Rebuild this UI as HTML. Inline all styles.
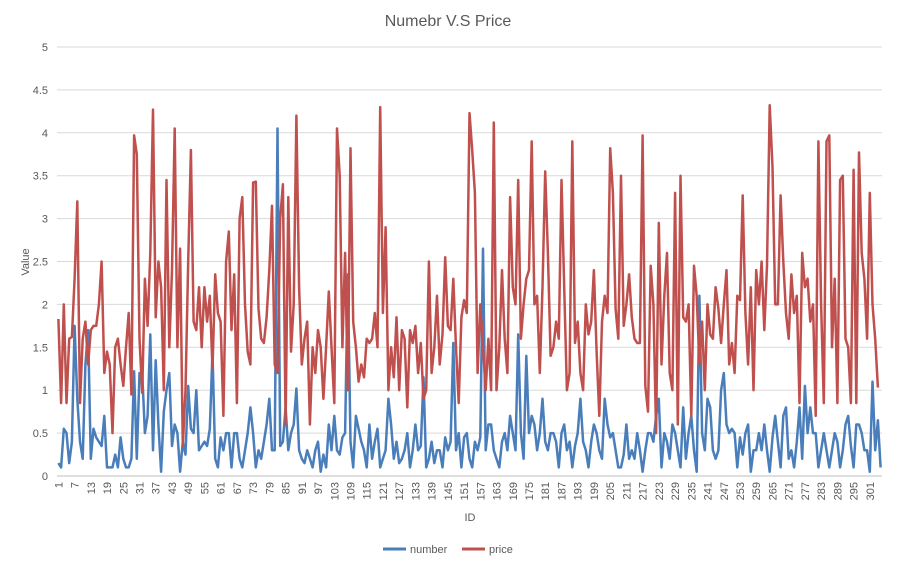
<!DOCTYPE html>
<html><head><meta charset="utf-8"><style>
body{margin:0;background:#fff;}
svg text{font-family:"Liberation Sans",sans-serif;fill:#595959;}
</style></head><body>
<svg id="chart" width="897" height="570" xmlns="http://www.w3.org/2000/svg">
<text x="448" y="26" font-size="16" text-anchor="middle">Numebr V.S Price</text>
<g id="grid"></g>
<g id="yticks"></g>
<g id="xticks"></g>
<g id="series"></g>
<text transform="translate(29,262) rotate(-90)" font-size="11" text-anchor="middle">Value</text>
<text x="470" y="521" font-size="11" text-anchor="middle">ID</text>
<g>
<g><line x1="383" y1="549" x2="406" y2="549" stroke="#4a7ebb" stroke-width="3"/><text x="410" y="553" font-size="11">number</text></g>
<g><line x1="462" y1="549" x2="485" y2="549" stroke="#c0504d" stroke-width="3"/><text x="489" y="553" font-size="11">price</text></g>
</g>
</svg>
<script>
const yTicks=[0,0.5,1,1.5,2,2.5,3,3.5,4,4.5,5];
const price=[1.83,0.85,2.0,0.85,1.6,1.62,2.3,3.2,0.85,1.6,1.8,1.3,1.7,1.75,1.75,2.0,2.5,1.2,1.45,1.3,0.5,1.5,1.6,1.3,1.05,1.5,1.9,0.95,3.97,3.75,1.6,0.97,2.3,1.75,2.6,4.27,1.85,2.5,2.2,1.0,3.45,1.5,2.4,4.05,1.5,2.65,0.35,1.0,2.5,3.8,1.8,1.7,2.2,1.5,2.2,1.8,2.1,1.25,2.35,1.9,1.8,0.7,2.5,2.85,1.7,2.35,0.85,3.0,3.25,2.0,1.45,1.3,3.42,3.43,1.95,1.6,1.55,1.85,2.4,3.15,1.3,1.2,3.0,3.4,0.6,3.25,1.45,2.0,4.2,2.2,1.3,1.6,1.8,0.6,1.5,1.2,1.7,1.5,0.9,1.5,2.15,1.5,0.85,4.05,3.5,1.5,2.6,1.0,3.82,1.8,1.5,1.1,1.3,1.15,1.6,1.55,1.6,1.9,1.5,4.3,1.9,2.9,1.0,1.5,1.15,1.85,1.0,1.7,1.6,0.8,1.7,1.55,1.75,1.2,1.55,0.9,1.0,2.5,1.2,1.5,2.1,1.3,1.65,2.55,1.75,1.7,2.3,1.5,0.85,1.85,2.05,1.9,4.23,3.8,3.3,1.2,2.0,1.5,1.0,1.6,1.0,4.12,1.0,1.5,2.4,1.6,1.2,3.25,2.2,2.0,3.45,1.6,2.0,2.3,2.4,3.9,2.0,2.1,1.2,2.2,3.55,2.6,1.4,1.5,1.8,1.6,3.45,2.2,1.0,1.2,3.9,1.55,1.8,1.2,1.0,2.0,1.65,1.8,2.4,1.45,0.7,1.8,2.1,1.9,3.82,3.3,1.95,1.6,3.5,1.75,2.0,2.35,1.85,1.6,1.55,1.55,3.97,1.05,0.75,2.45,2.0,0.5,2.95,1.3,2.1,2.6,1.2,1.0,3.3,0.6,3.5,1.85,1.8,2.0,0.7,2.45,2.1,1.3,1.8,1.0,2.0,1.65,1.6,2.2,1.95,1.55,2.0,2.4,1.3,1.55,1.2,2.1,2.05,3.27,1.9,1.3,2.2,1.0,2.4,2.0,2.5,1.7,2.45,4.32,3.6,2.0,2.0,3.27,2.5,1.9,1.6,2.35,1.9,2.1,0.85,2.6,2.2,2.3,1.8,2.0,0.7,3.9,2.0,0.85,3.9,3.97,1.5,2.3,0.85,3.45,3.5,1.6,1.5,0.85,3.57,0.85,3.77,2.6,2.3,1.6,3.3,2.0,1.6,1.03];
const number=[0.15,0.1,0.55,0.5,0.15,0.4,1.75,0.9,0.4,0.2,1.3,1.7,0.2,0.55,0.45,0.4,0.35,0.7,0.1,0.1,0.1,0.25,0.1,0.45,0.2,0.1,0.1,0.2,1.22,0.2,1.2,1.2,0.5,0.7,1.65,0.3,1.35,0.6,0.05,0.75,1.0,1.2,0.35,0.6,0.5,0.05,0.4,0.25,1.05,0.55,0.5,1.0,0.3,0.35,0.4,0.35,0.55,1.45,0.2,0.1,0.45,0.3,0.5,0.5,0.1,0.5,0.5,0.2,0.1,0.3,0.5,0.8,0.5,0.1,0.3,0.2,0.4,0.6,0.9,0.3,0.3,4.05,0.35,0.4,0.8,0.3,0.5,0.6,1.02,0.3,0.2,0.15,0.3,0.2,0.1,0.3,0.4,0.05,0.25,0.1,0.6,0.3,0.7,0.3,0.25,0.45,0.5,2.35,0.4,0.1,0.7,0.55,0.4,0.3,0.1,0.6,0.2,0.4,0.55,0.1,0.2,0.3,0.9,0.6,0.2,0.4,0.15,0.2,0.3,0.5,0.1,0.3,0.6,0.3,0.35,1.15,0.1,0.2,0.4,0.15,0.3,0.3,0.1,0.45,0.3,0.4,1.55,0.3,0.5,0.1,0.45,0.5,0.2,0.1,0.4,0.3,0.45,2.65,0.3,0.6,0.6,0.3,0.2,0.1,0.4,0.5,0.3,0.7,0.5,0.3,1.65,0.5,0.2,1.4,0.5,0.7,0.6,0.3,0.5,0.9,0.4,0.3,0.5,0.5,0.4,0.1,0.5,0.6,0.3,0.4,0.1,0.35,0.5,0.9,0.4,0.3,0.1,0.4,0.6,0.5,0.3,0.2,0.9,0.6,0.45,0.5,0.3,0.1,0.1,0.25,0.6,0.2,0.3,0.2,0.5,0.3,0.05,0.3,0.5,0.5,0.4,0.7,0.9,0.1,0.5,0.4,0.2,0.6,0.5,0.3,0.1,0.8,0.2,0.5,0.7,0.3,0.05,2.1,0.5,0.3,0.9,0.8,0.3,0.2,0.3,1.0,1.2,0.6,0.5,0.55,0.5,0.1,0.45,0.25,0.5,0.6,0.05,0.3,0.3,0.5,0.3,0.6,0.3,0.05,0.45,0.7,0.4,0.1,0.7,0.8,0.2,0.3,0.1,0.4,0.8,0.2,1.05,0.5,0.8,0.5,0.5,0.1,0.3,0.5,0.3,0.1,0.3,0.5,0.4,0.1,0.3,0.6,0.7,0.35,0.1,0.6,0.6,0.5,0.3,0.3,0.05,1.1,0.3,0.65,0.1];
const N=305;
const categories=[];for(let i=1;i<=N;i++)categories.push(i);
const NS="http://www.w3.org/2000/svg";
const X0=57,X1=882,Y0=476,Y1=47;
const step=(X1-X0)/N;
function xs(i){return X0+step*(i+0.5);}
function ys(v){return Y0-(v/5)*(Y0-Y1);}
function mk(tag,attrs,parent){const e=document.createElementNS(NS,tag);for(const k in attrs)e.setAttribute(k,attrs[k]);parent.appendChild(e);return e;}
const grid=document.getElementById('grid'),yt=document.getElementById('yticks'),xt=document.getElementById('xticks'),sg=document.getElementById('series');
yTicks.forEach(t=>{
 const l=mk('line',{x1:X0,x2:X1,y1:ys(t),y2:ys(t),stroke:t===0?'#bfbfbf':'#d9d9d9','stroke-width':1},grid);
 
 
 const tx=mk('text',{x:48,y:ys(t)+4,'font-size':11,'text-anchor':'end'},yt);
 tx.textContent=String(t);
 
 
});
categories.forEach((c,i)=>{
 if(i%6!==0)return;
 const x=xs(i);
 const tx=mk('text',{transform:`translate(${x+4},482) rotate(-90)`,'font-size':11,'text-anchor':'end'},xt);
 tx.textContent=String(c);
 
 
});
function line(data,color,name){
 const n=Math.min(data.length,N);
 let d='';for(let i=0;i<n;i++)d+=(i?'L':'M')+xs(i).toFixed(1)+','+ys(data[i]).toFixed(1);
 const p=mk('path',{d:d,fill:'none',stroke:color,'stroke-width':2.5,'stroke-linejoin':'round'},sg);
 
 
}
line(number,'#4a7ebb','number-line');
line(price,'#c0504d','price-line');
</script>
</body></html>
